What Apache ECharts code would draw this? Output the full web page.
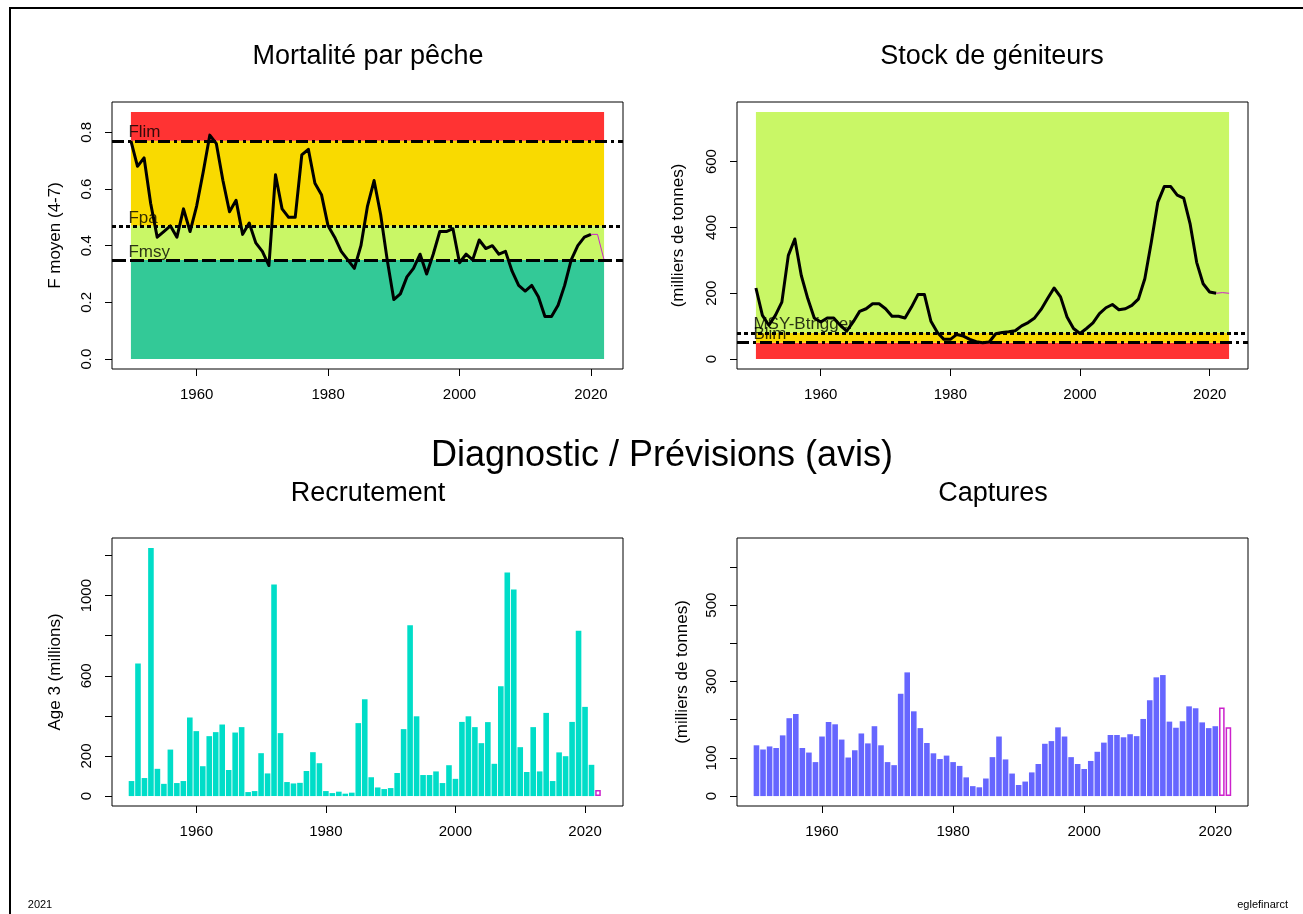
<!DOCTYPE html>
<html>
<head>
<meta charset="utf-8">
<title>Églefin arctique – diagnostic</title>
<script src="https://cdn.jsdelivr.net/npm/echarts@6/dist/echarts.min.js"></script>
<style>
  html, body { margin: 0; padding: 0; background: #fff; }
  #chart { width: 1303px; height: 914px; }
</style>
</head>
<body>
<div id="chart"></div>
<script>
// ---- Fishing mortality (mean F, ages 4-7) ----
const fYears = [];
for (let y = 1950; y <= 2020; y++) fYears.push(y);
const fValues = [
  0.77, 0.68, 0.71, 0.55, 0.43, 0.45, 0.47, 0.43, 0.53, 0.45,
  0.54, 0.66, 0.79, 0.76, 0.63, 0.52, 0.56, 0.44, 0.48, 0.41,
  0.38, 0.33, 0.65, 0.53, 0.50, 0.50, 0.72, 0.74, 0.62, 0.58,
  0.47, 0.43, 0.38, 0.35, 0.32, 0.40, 0.54, 0.63, 0.51, 0.35,
  0.21, 0.23, 0.29, 0.32, 0.37, 0.30, 0.37, 0.45, 0.45, 0.46,
  0.34, 0.37, 0.35, 0.42, 0.39, 0.40, 0.37, 0.38, 0.31, 0.26,
  0.24, 0.26, 0.22, 0.15, 0.15, 0.19, 0.26, 0.35, 0.40, 0.43,
  0.44
];
const fForecastYears = [2020, 2021, 2022];
const fForecast = [0.44, 0.44, 0.35];
const fRefNames = ['Flim', 'Fpa', 'Fmsy'];
const fRefValues = [0.77, 0.47, 0.35];
const fZoneTop = 0.872;
const fTicks = [0, 0.2, 0.4, 0.6, 0.8];

// ---- Spawning stock biomass (thousand tonnes) ----
const ssbYears = [];
for (let y = 1950; y <= 2021; y++) ssbYears.push(y);
const ssbValues = [
  216, 133, 103, 133, 173, 315, 365, 254, 184, 125,
  113, 125, 125, 103, 85, 113, 145, 153, 168, 168,
  153, 130, 130, 125, 158, 196, 196, 115, 81, 60,
  60, 75, 70, 60, 53, 50, 52, 77, 81, 83,
  86, 101, 111, 125, 151, 184, 216, 189, 128, 93,
  78, 93, 110, 138, 156, 166, 150, 153, 163, 182,
  244, 355, 476, 524, 524, 498, 489, 410, 294, 229,
  204, 200
];
const ssbForecastYears = [2021, 2022, 2023];
const ssbForecast = [200, 202, 200];
const bRefNames = ['MSY-Btrigger', 'Blim'];
const bRefValues = [80, 50];
const ssbZoneTop = 751;
const ssbTicks = [0, 200, 400, 600];

// ---- Recruitment at age 3 (millions) ----
const recYears = [];
for (let y = 1950; y <= 2021; y++) recYears.push(y);
const recValues = [
  75, 661, 90, 1238, 136, 61, 232, 65, 75, 392,
  324, 149, 299, 319, 357, 130, 317, 344, 20, 25,
  214, 113, 1056, 314, 70, 63, 66, 125, 219, 164,
  25, 15, 22, 12, 17, 364, 483, 94, 43, 35,
  40, 115, 334, 852, 398, 105, 105, 123, 65, 154,
  86, 370, 398, 344, 264, 369, 161, 548, 1116, 1031,
  244, 120, 344, 123, 415, 75, 218, 199, 370, 825,
  445, 156
];
const recForecastYears = [2022];
const recForecast = [30];
const recTicks = [0, 200, 400, 600, 800, 1000, 1200];
const recTickLabels = [0, 200, 600, 1000];

// ---- Catches (thousand tonnes) ----
const catchYears = [];
for (let y = 1950; y <= 2020; y++) catchYears.push(y);
const catchValues = [
  133, 122, 130, 126, 159, 204, 215, 126, 114, 89,
  156, 194, 188, 148, 101, 120, 164, 138, 183, 133,
  89, 81, 268, 324, 222, 178, 139, 112, 97, 106,
  89, 79, 49, 26, 23, 46, 102, 156, 96, 59,
  29, 38, 62, 84, 137, 144, 180, 156, 102, 84,
  71, 92, 116, 140, 160, 160, 154, 162, 157, 202,
  251, 311, 317, 195, 179, 196, 235, 230, 193, 178,
  183
];
const catchForecastYears = [2021, 2022];
const catchForecast = [232, 180];
const catchTicks = [0, 100, 200, 300, 400, 500, 600];
const catchTickLabels = [0, 100, 300, 500];

const yearTicks = [1960, 1980, 2000, 2020];

// ---- styling ----
const FONT = '"Liberation Sans", Arial, Helvetica, sans-serif';
const C_RED = '#FF3333', C_YELLOW = '#F9DA00', C_LIGHT = '#C9F766', C_TEAL = '#33C997';
const C_FORE = '#CC22CC', C_REC = '#00DDC8', C_CATCH = '#6666FF';

const pairs = (xs, ys) => xs.map((x, i) => [x, ys[i]]);

function xAxisFor(gi, min, max) {
  return {
    type: 'value', gridIndex: gi, min: min, max: max,
    splitLine: { show: false },
    axisLine: { show: false, onZero: false },
    axisTick: { show: true, customValues: yearTicks, length: 7, lineStyle: { color: '#000', width: 1 } },
    axisLabel: { customValues: yearTicks, fontSize: 15, color: '#000', margin: 18, fontFamily: FONT,
      formatter: v => String(Math.round(v)) }
  };
}
function yAxisFor(gi, min, max, ticks, labels, name, nameGap, digits) {
  return {
    type: 'value', gridIndex: gi, min: min, max: max,
    splitLine: { show: false },
    axisLine: { show: false, onZero: false },
    axisTick: { show: true, customValues: ticks, length: 7, lineStyle: { color: '#000', width: 1 } },
    axisLabel: {
      customValues: labels, rotate: 90, fontSize: 15, color: '#000', margin: 18, fontFamily: FONT,
      formatter: v => digits ? Number(v).toFixed(digits) : String(Math.round(v))
    },
    name: name, nameLocation: 'middle', nameRotate: 90, nameGap: nameGap,
    nameTextStyle: { fontSize: 17, color: '#000', fontFamily: FONT }
  };
}

function zoneArea(x0, x1, bounds, colors) {
  const data = [];
  for (let i = 0; i < colors.length; i++) {
    data.push([
      { xAxis: x0, yAxis: bounds[i], itemStyle: { color: colors[i] } },
      { xAxis: x1, yAxis: bounds[i + 1] }
    ]);
  }
  return { silent: true, data: data };
}
function refLines(values, dashes) {
  return {
    silent: true, symbol: ['none', 'none'], label: { show: false },
    data: values.map((v, i) => ({ yAxis: v, lineStyle: { color: '#000', width: 3, type: dashes[i] } }))
  };
}
function refLabels(gi, x, names, values) {
  return {
    type: 'scatter', xAxisIndex: gi, yAxisIndex: gi, z: 6, silent: true,
    symbolSize: 1, itemStyle: { color: 'rgba(0,0,0,0)' },
    data: names.map((n, i) => ({ name: n, value: [x, values[i]] })),
    label: {
      show: true, position: [0, 0], align: 'left', verticalAlign: 'bottom', offset: [-2, 1],
      formatter: p => p.name, fontSize: 17, color: '#000', fontFamily: FONT
    }
  };
}

const DOTDASH = [12, 4, 3, 4];
const DOTTED = [4, 3];
const LONGDASH = [14, 4];

// F zones: below Fmsy, Fmsy–Fpa, Fpa–Flim, above Flim
const fBounds = [0, fRefValues[2], fRefValues[1], fRefValues[0], fZoneTop];
// SSB zones: below Blim, Blim–Btrigger, above Btrigger
const bBounds = [0, bRefValues[1], bRefValues[0], ssbZoneTop];

const option = {
  animation: false,
  backgroundColor: '#fff',
  textStyle: { fontFamily: FONT },
  grid: [
    { left: 112, top: 102, width: 511, height: 267, show: true, borderColor: '#000', borderWidth: 1, backgroundColor: 'transparent' },
    { left: 737, top: 102, width: 511, height: 267, show: true, borderColor: '#000', borderWidth: 1, backgroundColor: 'transparent' },
    { left: 112, top: 538, width: 511, height: 268, show: true, borderColor: '#000', borderWidth: 1, backgroundColor: 'transparent' },
    { left: 737, top: 538, width: 511, height: 268, show: true, borderColor: '#000', borderWidth: 1, backgroundColor: 'transparent' }
  ],
  xAxis: [
    xAxisFor(0, 1947.12, 2024.88),
    xAxisFor(1, 1947.08, 2025.92),
    xAxisFor(2, 1946.99, 2025.86),
    xAxisFor(3, 1947.03, 2024.99)
  ],
  yAxis: [
    yAxisFor(0, -0.0349, 0.9069, fTicks, fTicks, 'F moyen (4-7)', 48, 1),
    yAxisFor(1, -30.04, 781.04, ssbTicks, ssbTicks, '(milliers de tonnes)', 50, 0),
    yAxisFor(2, -49.5, 1287.5, recTicks, recTickLabels, 'Age 3 (millions)', 48, 0),
    yAxisFor(3, -26, 676, catchTicks, catchTickLabels, '(milliers de tonnes)', 46, 0)
  ],
  series: [
    // --- fishing mortality ---
    { type: 'line', xAxisIndex: 0, yAxisIndex: 0, z: 1, data: [], silent: true,
      markArea: zoneArea(fYears[0], fForecastYears[fForecastYears.length - 1], fBounds, [C_TEAL, C_LIGHT, C_YELLOW, C_RED]) },
    { type: 'line', xAxisIndex: 0, yAxisIndex: 0, z: 2, data: [], silent: true,
      markLine: refLines(fRefValues, [DOTDASH, DOTTED, LONGDASH]) },
    { type: 'line', xAxisIndex: 0, yAxisIndex: 0, z: 4, symbol: 'none', silent: true,
      lineStyle: { color: '#000', width: 3, join: 'round' }, data: pairs(fYears, fValues) },
    { type: 'line', xAxisIndex: 0, yAxisIndex: 0, z: 4, symbol: 'none', silent: true,
      lineStyle: { color: C_FORE, width: 1 }, data: pairs(fForecastYears, fForecast) },
    refLabels(0, fYears[0], fRefNames, fRefValues),

    // --- spawning stock ---
    { type: 'line', xAxisIndex: 1, yAxisIndex: 1, z: 1, data: [], silent: true,
      markArea: zoneArea(ssbYears[0], ssbForecastYears[ssbForecastYears.length - 1], bBounds, [C_RED, C_YELLOW, C_LIGHT]) },
    { type: 'line', xAxisIndex: 1, yAxisIndex: 1, z: 2, data: [], silent: true,
      markLine: refLines(bRefValues, [DOTTED, DOTDASH]) },
    { type: 'line', xAxisIndex: 1, yAxisIndex: 1, z: 4, symbol: 'none', silent: true,
      lineStyle: { color: '#000', width: 3, join: 'round' }, data: pairs(ssbYears, ssbValues) },
    { type: 'line', xAxisIndex: 1, yAxisIndex: 1, z: 4, symbol: 'none', silent: true,
      lineStyle: { color: C_FORE, width: 1 }, data: pairs(ssbForecastYears, ssbForecast) },
    refLabels(1, ssbYears[0], bRefNames, bRefValues),

    // --- recruitment ---
    { type: 'bar', xAxisIndex: 2, yAxisIndex: 2, barWidth: 5.6, silent: true,
      itemStyle: { color: C_REC },
      data: pairs(recYears, recValues).concat(pairs(recForecastYears, recForecast).map(v => ({
        value: v, itemStyle: { color: '#fff', borderColor: C_FORE, borderWidth: 1.5 }
      }))) },

    // --- catches ---
    { type: 'bar', xAxisIndex: 3, yAxisIndex: 3, barWidth: 5.6, silent: true,
      itemStyle: { color: C_CATCH },
      data: pairs(catchYears, catchValues).concat(pairs(catchForecastYears, catchForecast).map(v => ({
        value: v, itemStyle: { color: '#fff', borderColor: C_FORE, borderWidth: 1.5 }
      }))) }
  ],
  graphic: [
    { type: 'rect', silent: true, shape: { x: 10, y: 8, width: 1400, height: 1000 },
      style: { fill: 'none', stroke: '#000', lineWidth: 2 } },
    { type: 'text', silent: true, x: 368, y: 57, style: { text: 'Mortalité par pêche', font: '27px ' + FONT, fill: '#000', align: 'center', verticalAlign: 'middle' } },
    { type: 'text', silent: true, x: 992, y: 57, style: { text: 'Stock de géniteurs', font: '27px ' + FONT, fill: '#000', align: 'center', verticalAlign: 'middle' } },
    { type: 'text', silent: true, x: 662, y: 456, style: { text: 'Diagnostic / Prévisions (avis)', font: '36px ' + FONT, fill: '#000', align: 'center', verticalAlign: 'middle' } },
    { type: 'text', silent: true, x: 368, y: 494, style: { text: 'Recrutement', font: '27px ' + FONT, fill: '#000', align: 'center', verticalAlign: 'middle' } },
    { type: 'text', silent: true, x: 993, y: 494, style: { text: 'Captures', font: '27px ' + FONT, fill: '#000', align: 'center', verticalAlign: 'middle' } },
    { type: 'text', silent: true, x: 40, y: 905, style: { text: '2021', font: '11px ' + FONT, fill: '#000', align: 'center', verticalAlign: 'middle' } },
    { type: 'text', silent: true, x: 1288, y: 905, style: { text: 'eglefinarct', font: '11px ' + FONT, fill: '#000', align: 'right', verticalAlign: 'middle' } }
  ]
};

const chart = echarts.init(document.getElementById('chart'), null, { renderer: 'canvas' });
chart.setOption(option);
</script>
</body>
</html>
